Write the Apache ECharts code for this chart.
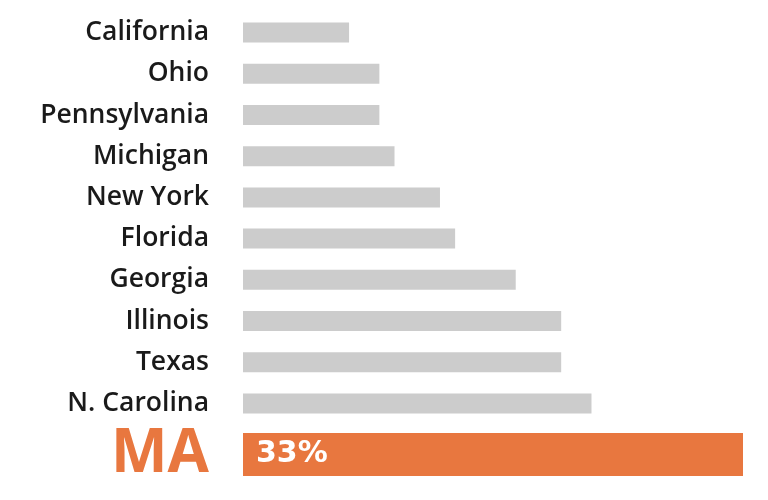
<!DOCTYPE html>
<html>
<head>
<meta charset="utf-8">
<script src="https://cdn.jsdelivr.net/npm/echarts@6/dist/echarts.min.js"></script>
<style>
  html, body { margin: 0; padding: 0; background: #fff; }
  #main { width: 768px; height: 500px; }
</style>
</head>
<body>
<div id="main"></div>
<script>
// states, top to bottom
var states = ['California', 'Ohio', 'Pennsylvania', 'Michigan', 'New York',
  'Florida', 'Georgia', 'Illinois', 'Texas', 'N. Carolina'];
// percent values
var stateValues = [7, 9, 9, 10, 13, 14, 18, 21, 21, 23];

var highlightName = ['MA'];
var highlightValues = [33];

var maxPct = 33;

var chart = echarts.init(document.getElementById('main'));

var option = {
  animation: false,
  grid: [
    { left: 243, right: 25, top: 12, height: 412 },
    { left: 243, right: 25, top: 433, height: 43 }
  ],
  xAxis: [
    { gridIndex: 0, type: 'value', min: 0, max: maxPct, show: false },
    { gridIndex: 1, type: 'value', min: 0, max: maxPct, show: false }
  ],
  yAxis: [
    {
      gridIndex: 0,
      type: 'category',
      data: states,
      inverse: true,
      axisLine: { show: false },
      axisTick: { show: false },
      axisLabel: {
        margin: 34,
        color: '#1a1a1a',
        fontSize: 26.5,
        fontWeight: 600,
        fontFamily: 'Open Sans'
      }
    },
    {
      gridIndex: 1,
      type: 'category',
      data: highlightName,
      axisLine: { show: false },
      axisTick: { show: false },
      axisLabel: {
        margin: 34,
        color: '#e8773f',
        fontSize: 60,
        fontWeight: 'bold',
        fontFamily: 'Open Sans'
      }
    }
  ],
  series: [
    {
      type: 'bar',
      xAxisIndex: 0,
      yAxisIndex: 0,
      data: stateValues,
      barWidth: 20,
      itemStyle: { color: '#cccccc' }
    },
    {
      type: 'bar',
      xAxisIndex: 1,
      yAxisIndex: 1,
      data: highlightValues,
      barWidth: 43,
      itemStyle: { color: '#e8773f' },
      label: {
        show: true,
        position: 'insideLeft',
        distance: 13,
        formatter: '{c}%',
        color: '#ffffff',
        fontSize: 30,
        fontWeight: 'bold',
        fontFamily: 'DejaVu Sans'
      }
    }
  ]
};

chart.setOption(option);
</script>
</body>
</html>
